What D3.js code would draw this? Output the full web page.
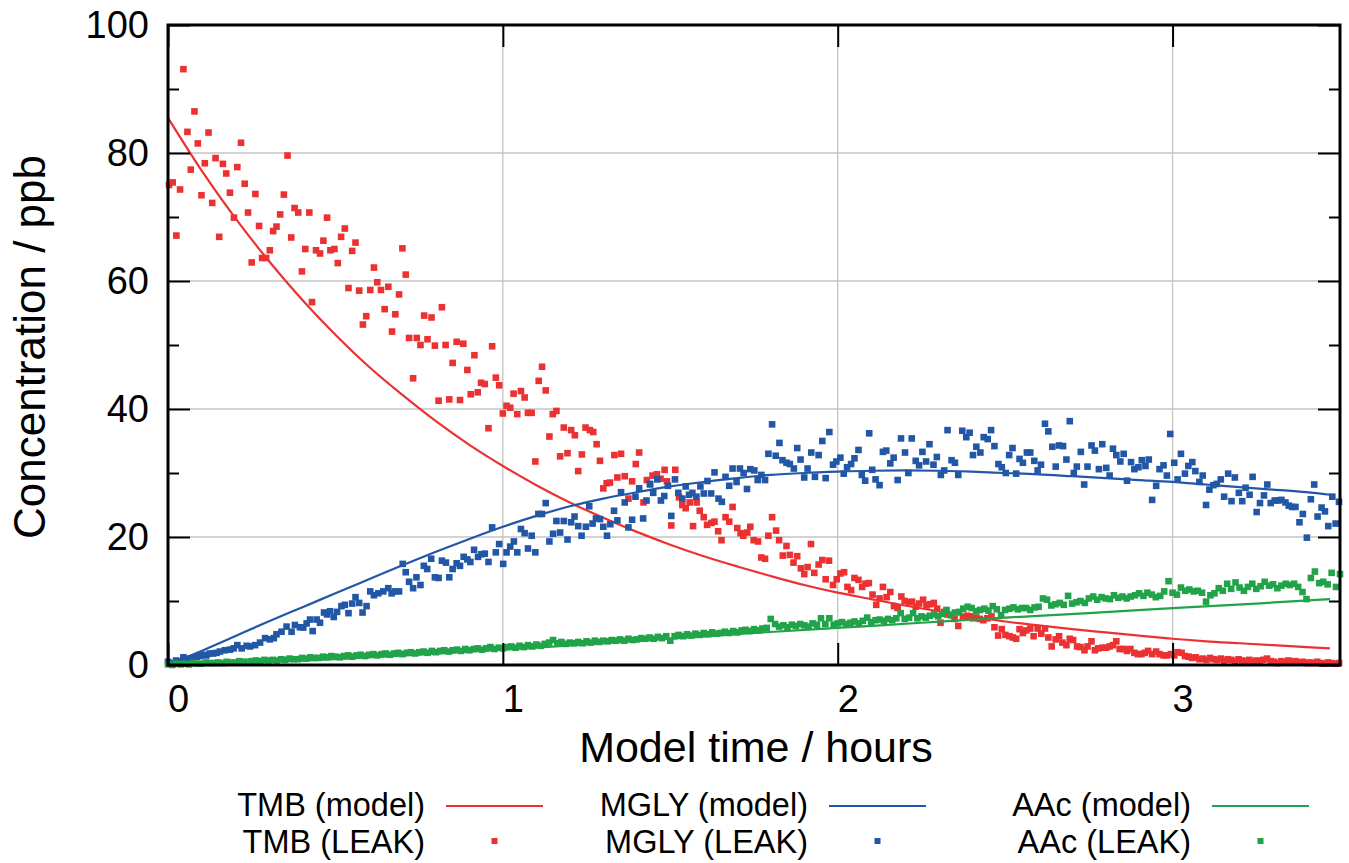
<!DOCTYPE html>
<html><head><meta charset="utf-8">
<script src="https://cdn.jsdelivr.net/npm/d3@7/dist/d3.min.js"></script>
<style>html,body{margin:0;padding:0;background:#fff;} svg{display:block;}</style>
</head><body><svg id="chart" width="1349" height="863"></svg>
<script>
// ---------------- data ----------------
const xTicks = [0, 1, 2, 3];
const yTicks = [0, 20, 40, 60, 80, 100];
const yMinorTicks = [10, 30, 50, 70, 90];
const xGrid = [1, 2, 3];
const yGrid = [20, 40, 60, 80];
const xTitle = "Model time / hours";
const yTitle = "Concentration / ppb";
const seriesNames = ["TMB", "MGLY", "AAc"];
const seriesColors = ["#eb3131", "#2157a6", "#21a34a"];

// model curves: [hours, ppb]
const tmbModel = [[0,85.5],[0.1,77.3],[0.2,69.9],[0.3,63.2],[0.4,57.1],[0.5,51.6],[0.6,46.6],[0.7,42.2],[0.8,38.1],[0.9,34.4],[1.0,31.1],[1.1,28.1],[1.2,25.4],[1.3,23.0],[1.4,20.8],[1.5,18.8],[1.6,17.0],[1.7,15.4],[1.8,13.9],[1.9,12.5],[2.0,11.3],[2.1,10.3],[2.2,9.3],[2.3,8.4],[2.4,7.6],[2.5,6.8],[2.6,6.2],[2.7,5.6],[2.8,5.1],[2.9,4.6],[3.0,4.1],[3.1,3.7],[3.2,3.4],[3.3,3.1],[3.4,2.8],[3.47,2.6]];
const mglyModel = [[0,0],[0.1,2.2],[0.2,4.5],[0.3,6.8],[0.4,9.0],[0.5,11.2],[0.6,13.4],[0.7,15.6],[0.8,17.7],[0.9,19.7],[1.0,21.6],[1.1,23.3],[1.2,24.8],[1.3,26.0],[1.4,27.0],[1.5,27.9],[1.6,28.6],[1.7,29.2],[1.8,29.7],[1.9,30.0],[2.0,30.2],[2.1,30.35],[2.2,30.4],[2.3,30.35],[2.4,30.2],[2.5,30.0],[2.6,29.8],[2.7,29.5],[2.8,29.2],[2.9,28.9],[3.0,28.6],[3.1,28.2],[3.2,27.8],[3.3,27.4],[3.4,27.0],[3.47,26.6]];
const aacModel = [[0,0],[0.25,0.35],[0.5,0.9],[0.75,1.6],[1.0,2.4],[1.25,3.2],[1.5,4.1],[1.75,5.0],[2.0,5.8],[2.25,6.6],[2.5,7.4],[2.75,8.1],[3.0,8.9],[3.25,9.6],[3.47,10.3]];

// LEAK measurements: [hours, ppb]
const tmbLeak = [[0.003,75.0],[0.014,75.4],[0.025,67.1],[0.036,74.3],[0.046,93.1],[0.058,83.3],[0.068,77.4],[0.079,86.5],[0.089,81.5],[0.100,73.4],[0.110,78.4],[0.121,83.2],[0.132,72.2],[0.142,79.2],[0.153,66.9],[0.164,78.3],[0.174,76.8],[0.185,73.8],[0.197,69.9],[0.207,77.8],[0.218,81.6],[0.229,75.2],[0.239,70.7],[0.250,62.9],[0.261,73.6],[0.272,68.6],[0.281,63.6],[0.293,63.6],[0.304,64.8],[0.314,67.8],[0.324,68.5],[0.335,70.4],[0.346,73.5],[0.357,79.6],[0.368,66.8],[0.378,71.4],[0.389,70.7],[0.400,61.5],[0.410,65.0],[0.422,70.7],[0.430,56.7],[0.442,64.8],[0.454,64.3],[0.464,66.3],[0.475,69.9],[0.485,64.8],[0.497,65.0],[0.507,62.8],[0.517,66.9],[0.528,68.2],[0.539,58.9],[0.550,64.7],[0.560,66.0],[0.571,58.5],[0.582,53.2],[0.592,54.5],[0.604,58.6],[0.615,62.1],[0.625,59.8],[0.636,58.6],[0.647,55.6],[0.658,59.1],[0.669,52.1],[0.679,54.8],[0.690,57.9],[0.700,65.1],[0.710,61.0],[0.720,51.1],[0.732,44.8],[0.743,51.1],[0.754,50.0],[0.765,54.6],[0.775,50.9],[0.787,54.3],[0.797,49.9],[0.808,41.3],[0.818,55.9],[0.829,50.0],[0.840,41.5],[0.850,47.2],[0.862,50.5],[0.872,41.4],[0.882,50.2],[0.894,46.1],[0.904,42.3],[0.915,48.4],[0.925,42.6],[0.935,44.1],[0.946,43.9],[0.957,37.0],[0.968,49.8],[0.979,44.9],[0.989,43.7],[1.000,39.3],[1.011,40.5],[1.022,40.2],[1.032,42.4],[1.043,39.2],[1.054,42.8],[1.065,41.8],[1.075,39.4],[1.086,39.4],[1.097,31.8],[1.107,44.4],[1.117,46.6],[1.128,42.9],[1.139,35.7],[1.149,39.2],[1.160,39.7],[1.171,32.6],[1.182,37.1],[1.193,33.1],[1.204,36.7],[1.215,35.9],[1.225,30.3],[1.236,32.9],[1.247,37.1],[1.260,36.7],[1.270,36.4],[1.280,34.5],[1.290,31.9],[1.300,27.6],[1.310,28.4],[1.320,28.5],[1.333,32.8],[1.342,29.3],[1.353,33.0],[1.364,29.5],[1.375,26.0],[1.386,28.7],[1.397,31.4],[1.407,33.2],[1.420,25.4],[1.430,28.9],[1.440,28.2],[1.447,29.6],[1.460,29.8],[1.471,29.1],[1.483,30.5],[1.490,28.7],[1.503,21.8],[1.515,30.5],[1.526,26.2],[1.536,25.0],[1.546,24.5],[1.558,25.4],[1.568,21.7],[1.579,25.4],[1.588,24.1],[1.600,23.1],[1.610,21.9],[1.623,22.2],[1.632,22.4],[1.643,20.9],[1.653,19.5],[1.665,23.1],[1.676,22.4],[1.686,24.7],[1.700,21.4],[1.710,20.6],[1.718,20.2],[1.730,20.7],[1.739,21.6],[1.749,19.5],[1.762,19.3],[1.772,16.8],[1.783,16.6],[1.793,20.2],[1.804,23.1],[1.816,21.0],[1.825,19.5],[1.836,17.1],[1.847,18.6],[1.857,17.2],[1.868,16.0],[1.879,17.0],[1.890,15.1],[1.900,14.2],[1.910,15.3],[1.920,18.9],[1.930,14.4],[1.943,15.7],[1.954,16.4],[1.964,13.4],[1.974,16.3],[1.986,12.5],[1.997,13.4],[2.008,14.3],[2.019,14.5],[2.029,12.2],[2.040,11.7],[2.050,13.6],[2.062,13.3],[2.073,12.2],[2.083,12.7],[2.093,12.8],[2.104,11.0],[2.115,9.4],[2.125,10.4],[2.135,12.2],[2.146,10.6],[2.157,11.4],[2.168,9.2],[2.179,8.9],[2.190,10.7],[2.200,10.0],[2.212,9.8],[2.222,9.9],[2.233,9.1],[2.243,9.6],[2.255,10.2],[2.265,9.3],[2.276,9.5],[2.287,9.7],[2.297,8.8],[2.307,6.6],[2.318,8.3],[2.328,7.9],[2.339,7.8],[2.349,7.2],[2.360,6.1],[2.374,7.5],[2.386,7.7],[2.395,7.6],[2.404,7.3],[2.414,7.4],[2.424,7.2],[2.435,7.0],[2.447,7.3],[2.459,7.6],[2.468,5.9],[2.479,4.6],[2.490,5.6],[2.501,4.7],[2.513,4.5],[2.523,4.3],[2.533,4.1],[2.543,5.6],[2.553,5.0],[2.563,5.4],[2.575,5.7],[2.585,4.5],[2.597,5.7],[2.608,4.9],[2.619,5.7],[2.629,4.3],[2.639,2.9],[2.651,4.0],[2.661,4.5],[2.671,3.5],[2.683,3.1],[2.693,4.1],[2.703,3.9],[2.715,2.9],[2.725,2.8],[2.737,2.3],[2.746,2.9],[2.758,3.7],[2.768,2.3],[2.778,2.6],[2.790,2.7],[2.802,2.7],[2.812,2.9],[2.822,3.1],[2.832,3.7],[2.842,2.5],[2.854,2.5],[2.864,2.2],[2.874,2.5],[2.886,1.9],[2.896,1.7],[2.907,1.7],[2.917,1.9],[2.927,2.2],[2.939,1.7],[2.951,2.1],[2.961,1.7],[2.973,1.5],[2.983,1.5],[2.995,1.7],[3.005,1.5],[3.015,2.0],[3.027,1.9],[3.037,1.4],[3.048,1.3],[3.058,1.1],[3.069,1.2],[3.080,0.9],[3.090,1.0],[3.101,0.8],[3.112,1.1],[3.122,0.9],[3.133,0.8],[3.144,1.0],[3.154,0.7],[3.165,0.9],[3.175,0.8],[3.186,0.6],[3.197,0.9],[3.207,0.7],[3.218,0.6],[3.229,0.8],[3.239,0.5],[3.250,0.7],[3.261,0.6],[3.271,0.8],[3.282,1.0],[3.293,0.6],[3.303,0.5],[3.314,0.3],[3.325,0.6],[3.335,0.4],[3.346,0.7],[3.357,0.5],[3.367,0.6],[3.378,0.4],[3.389,0.5],[3.400,0.3],[3.410,0.4],[3.421,0.3],[3.432,0.5],[3.443,0.3],[3.453,0.2],[3.464,0.4],[3.475,0.3],[3.486,0.2],[3.497,0.3]];

const mglyLeak = [[0.000,0.5],[0.012,0.3],[0.024,0.7],[0.035,0.6],[0.046,1.2],[0.056,0.9],[0.066,1.0],[0.076,1.1],[0.086,1.3],[0.096,1.4],[0.106,1.6],[0.115,1.5],[0.125,1.8],[0.135,1.8],[0.145,1.9],[0.155,2.1],[0.170,2.3],[0.185,2.4],[0.196,2.6],[0.207,3.1],[0.220,2.6],[0.235,3.0],[0.245,2.9],[0.260,3.1],[0.275,3.5],[0.290,4.2],[0.304,4.0],[0.316,4.2],[0.324,4.8],[0.339,5.2],[0.354,6.0],[0.369,5.2],[0.379,6.25],[0.394,5.9],[0.404,5.85],[0.414,6.5],[0.424,7.1],[0.432,5.3],[0.444,7.1],[0.454,6.6],[0.466,8.2],[0.475,7.9],[0.484,8.4],[0.495,7.5],[0.505,8.3],[0.518,9.2],[0.528,9.4],[0.539,8.1],[0.550,9.6],[0.560,10.6],[0.571,9.7],[0.581,8.2],[0.593,9.2],[0.604,11.5],[0.615,10.9],[0.628,11.2],[0.643,11.5],[0.658,12.0],[0.668,11.2],[0.678,11.5],[0.690,11.5],[0.701,15.8],[0.710,14.5],[0.720,13.0],[0.732,12.0],[0.742,13.7],[0.754,12.5],[0.764,15.5],[0.774,15.0],[0.786,16.6],[0.797,13.7],[0.808,13.6],[0.818,16.3],[0.830,16.0],[0.840,13.7],[0.850,15.0],[0.862,15.9],[0.872,15.5],[0.883,16.9],[0.894,16.5],[0.903,16.1],[0.914,18.0],[0.926,16.9],[0.936,17.3],[0.946,17.4],[0.957,16.1],[0.968,21.5],[0.979,17.6],[0.989,18.9],[1.001,15.8],[1.011,17.6],[1.022,18.5],[1.033,19.3],[1.043,17.6],[1.054,21.25],[1.065,20.6],[1.075,18.2],[1.086,20.2],[1.097,17.6],[1.106,23.6],[1.117,23.6],[1.128,25.3],[1.139,19.3],[1.150,20.5],[1.160,22.5],[1.171,20.7],[1.182,22.5],[1.193,19.6],[1.204,22.3],[1.214,23.2],[1.225,21.7],[1.235,20.2],[1.248,21.6],[1.258,24.8],[1.268,22.1],[1.278,22.9],[1.290,22.8],[1.300,21.6],[1.311,20.2],[1.321,22.0],[1.332,24.1],[1.342,22.6],[1.353,27.0],[1.364,25.4],[1.375,21.5],[1.386,22.7],[1.396,26.3],[1.407,27.6],[1.419,22.9],[1.429,25.7],[1.439,28.3],[1.449,26.9],[1.461,29.0],[1.472,25.7],[1.482,26.4],[1.493,28.0],[1.503,23.3],[1.514,29.0],[1.524,26.9],[1.536,26.0],[1.546,27.9],[1.556,26.6],[1.566,26.9],[1.578,26.3],[1.590,27.9],[1.600,26.8],[1.611,28.75],[1.622,26.8],[1.632,30.1],[1.644,26.0],[1.654,25.5],[1.665,29.4],[1.676,28.0],[1.686,30.7],[1.698,28.6],[1.708,30.7],[1.719,30.0],[1.729,27.5],[1.739,30.6],[1.751,30.4],[1.761,28.9],[1.772,29.7],[1.783,28.9],[1.793,33.0],[1.804,37.6],[1.815,32.7],[1.826,34.7],[1.835,32.0],[1.847,31.6],[1.857,31.4],[1.869,30.7],[1.879,33.9],[1.889,32.1],[1.900,29.3],[1.910,30.7],[1.921,33.2],[1.932,29.4],[1.943,32.8],[1.954,35.0],[1.964,29.2],[1.975,36.4],[1.986,31.3],[1.996,31.8],[2.008,32.4],[2.018,29.9],[2.028,30.9],[2.040,31.4],[2.050,32.3],[2.062,33.6],[2.072,29.7],[2.082,28.8],[2.094,36.2],[2.103,30.5],[2.113,29.0],[2.125,28.1],[2.135,33.3],[2.145,33.5],[2.157,31.5],[2.167,32.4],[2.179,28.9],[2.189,35.4],[2.201,33.2],[2.211,30.0],[2.221,35.4],[2.233,31.9],[2.243,31.2],[2.253,33.3],[2.264,31.8],[2.274,34.5],[2.286,31.3],[2.296,32.5],[2.308,29.7],[2.318,30.4],[2.328,36.7],[2.340,32.0],[2.350,31.6],[2.360,29.7],[2.372,36.6],[2.384,35.6],[2.394,36.3],[2.404,32.8],[2.414,34.1],[2.426,33.2],[2.436,35.6],[2.448,35.3],[2.458,36.7],[2.468,34.2],[2.480,31.4],[2.490,30.9],[2.502,30.0],[2.512,32.8],[2.522,33.9],[2.533,29.9],[2.543,32.2],[2.553,31.6],[2.565,33.2],[2.575,33.2],[2.587,31.9],[2.597,30.4],[2.607,31.3],[2.619,37.7],[2.629,36.5],[2.641,34.1],[2.651,31.0],[2.661,34.3],[2.673,34.2],[2.683,32.1],[2.693,38.1],[2.705,30.0],[2.714,31.0],[2.726,33.3],[2.736,28.2],[2.746,31.0],[2.758,34.3],[2.768,33.5],[2.780,30.6],[2.790,34.5],[2.802,30.8],[2.812,29.6],[2.822,33.8],[2.832,32.8],[2.844,31.8],[2.854,33.0],[2.864,28.8],[2.876,31.7],[2.886,30.6],[2.898,30.9],[2.908,32.0],[2.919,31.1],[2.929,32.1],[2.939,25.8],[2.951,28.0],[2.961,30.6],[2.973,31.2],[2.983,29.6],[2.993,36.1],[3.005,31.6],[3.015,29.0],[3.025,33.0],[3.037,29.9],[3.047,31.1],[3.059,31.7],[3.068,30.3],[3.080,28.6],[3.090,29.6],[3.100,25.0],[3.110,27.4],[3.122,28.1],[3.132,28.3],[3.144,29.0],[3.154,26.3],[3.166,29.9],[3.176,25.6],[3.186,29.3],[3.198,26.9],[3.208,25.6],[3.218,27.7],[3.230,26.6],[3.239,29.4],[3.251,23.9],[3.261,25.3],[3.273,26.5],[3.283,28.2],[3.293,25.3],[3.305,25.7],[3.315,25.7],[3.325,25.8],[3.337,25.4],[3.347,24.9],[3.357,24.7],[3.367,24.7],[3.379,22.3],[3.389,23.6],[3.401,19.9],[3.413,25.9],[3.423,28.2],[3.433,23.2],[3.445,24.6],[3.455,24.0],[3.465,21.7],[3.477,26.3],[3.487,22.1],[3.497,25.5]];

const aacLeak = [[0.000,0.1],[0.013,0.0],[0.025,0.2],[0.038,0.1],[0.050,0.2],[0.063,0.1],[0.075,0.3],[0.088,0.2],[0.100,0.2],[0.113,0.4],[0.125,0.3],[0.138,0.3],[0.150,0.4],[0.163,0.3],[0.175,0.5],[0.188,0.4],[0.200,0.4],[0.213,0.6],[0.225,0.5],[0.238,0.5],[0.250,0.6],[0.263,0.7],[0.275,0.6],[0.288,0.8],[0.300,0.7],[0.313,0.8],[0.325,0.7],[0.338,0.9],[0.350,0.8],[0.363,1.0],[0.375,0.9],[0.388,0.9],[0.400,1.1],[0.413,1.0],[0.425,1.2],[0.438,1.1],[0.450,1.1],[0.463,1.3],[0.475,1.2],[0.488,1.4],[0.500,1.3],[0.513,1.2],[0.525,1.4],[0.538,1.5],[0.550,1.3],[0.563,1.5],[0.575,1.6],[0.588,1.4],[0.600,1.6],[0.613,1.7],[0.625,1.5],[0.638,1.7],[0.650,1.8],[0.663,1.6],[0.675,1.8],[0.688,1.9],[0.700,1.7],[0.713,1.9],[0.725,2.0],[0.738,1.8],[0.750,2.0],[0.763,2.1],[0.775,1.9],[0.788,2.2],[0.800,2.0],[0.813,2.2],[0.825,2.3],[0.838,2.1],[0.850,2.3],[0.863,2.4],[0.875,2.2],[0.888,2.5],[0.900,2.3],[0.913,2.5],[0.925,2.6],[0.938,2.4],[0.950,2.6],[0.963,2.8],[0.975,2.5],[0.988,2.7],[1.000,2.6],[1.013,2.8],[1.025,2.9],[1.038,2.7],[1.050,3.0],[1.063,2.8],[1.075,3.1],[1.088,2.9],[1.100,3.2],[1.113,3.0],[1.125,3.3],[1.138,3.5],[1.150,3.9],[1.163,3.4],[1.175,3.6],[1.188,3.3],[1.200,3.5],[1.213,3.4],[1.225,3.6],[1.238,3.4],[1.250,3.7],[1.263,3.5],[1.275,3.8],[1.288,3.6],[1.300,3.8],[1.313,3.7],[1.325,3.9],[1.338,3.8],[1.350,4.0],[1.363,3.8],[1.375,4.1],[1.388,3.9],[1.400,4.0],[1.413,4.2],[1.425,4.1],[1.438,4.3],[1.450,4.1],[1.463,4.4],[1.475,4.2],[1.488,4.5],[1.500,3.8],[1.513,4.5],[1.525,4.7],[1.538,4.5],[1.550,4.8],[1.563,4.6],[1.575,4.9],[1.588,4.7],[1.600,5.0],[1.613,4.8],[1.625,5.1],[1.638,4.9],[1.650,5.0],[1.663,5.2],[1.675,5.0],[1.688,5.3],[1.700,5.1],[1.713,5.4],[1.725,5.5],[1.738,5.3],[1.750,5.6],[1.763,5.4],[1.775,5.7],[1.788,5.8],[1.800,7.2],[1.813,6.4],[1.825,6.0],[1.838,6.2],[1.850,5.9],[1.863,6.3],[1.875,6.1],[1.888,6.4],[1.900,6.2],[1.913,6.0],[1.925,6.5],[1.938,6.3],[1.950,7.3],[1.963,6.4],[1.975,7.3],[1.988,6.3],[2.000,6.5],[2.013,6.7],[2.025,6.4],[2.038,6.6],[2.050,6.8],[2.063,6.5],[2.075,6.9],[2.088,7.4],[2.100,6.7],[2.113,7.0],[2.125,7.1],[2.138,6.9],[2.150,7.2],[2.163,7.0],[2.175,7.3],[2.188,8.1],[2.200,7.2],[2.213,7.4],[2.225,8.1],[2.238,7.3],[2.250,7.6],[2.263,7.4],[2.275,7.7],[2.288,7.9],[2.300,7.6],[2.313,8.0],[2.325,8.6],[2.338,7.8],[2.350,8.2],[2.363,8.3],[2.375,8.8],[2.388,9.1],[2.400,8.9],[2.413,8.4],[2.425,8.6],[2.438,8.8],[2.450,8.5],[2.463,9.2],[2.475,8.7],[2.488,7.8],[2.500,8.6],[2.513,8.8],[2.525,9.0],[2.538,8.7],[2.550,8.9],[2.563,8.9],[2.575,8.6],[2.588,9.0],[2.600,9.1],[2.613,10.4],[2.625,10.2],[2.638,9.3],[2.650,9.5],[2.663,9.7],[2.675,9.4],[2.688,10.8],[2.700,9.6],[2.713,9.8],[2.725,10.0],[2.738,9.7],[2.750,10.4],[2.763,10.7],[2.775,10.2],[2.788,10.6],[2.800,10.4],[2.813,10.3],[2.825,10.9],[2.838,10.5],[2.850,10.7],[2.863,10.4],[2.875,10.7],[2.888,10.9],[2.900,11.2],[2.913,10.8],[2.925,11.3],[2.938,11.0],[2.950,10.6],[2.963,10.8],[2.975,11.5],[2.988,13.1],[3.000,11.3],[3.013,11.0],[3.025,12.1],[3.038,11.6],[3.050,11.8],[3.063,11.5],[3.075,11.6],[3.088,11.3],[3.100,9.9],[3.113,10.9],[3.125,11.2],[3.138,12.0],[3.150,11.6],[3.163,12.7],[3.175,11.9],[3.188,12.9],[3.200,12.1],[3.213,11.6],[3.225,12.2],[3.238,12.7],[3.250,11.9],[3.263,12.3],[3.275,13.0],[3.288,12.4],[3.300,12.6],[3.313,12.0],[3.325,12.4],[3.338,12.7],[3.350,12.5],[3.363,12.7],[3.375,12.2],[3.388,11.4],[3.400,10.3],[3.413,13.6],[3.425,14.6],[3.438,12.8],[3.450,13.0],[3.463,12.6],[3.475,14.4],[3.488,12.2],[3.500,14.2]];

// ---------------- drawing ----------------
const FONT = "'Liberation Sans', Arial, Helvetica, sans-serif";
const plot = {left: 168, right: 1340, top: 25, bottom: 665};
const x = d3.scaleLinear().domain([0, 3.5]).range([plot.left, plot.right]);
const y = d3.scaleLinear().domain([0, 100]).range([plot.bottom, plot.top]);

const svg = d3.select("#chart");
svg.append("rect").attr("width", 1349).attr("height", 863).attr("fill", "#fff");

// grid
const grid = svg.append("g").attr("stroke", "#c4c4c4").attr("stroke-width", 1.3);
grid.selectAll("line.gx").data(xGrid).join("line")
  .attr("x1", d => x(d)).attr("x2", d => x(d)).attr("y1", plot.top).attr("y2", plot.bottom);
grid.selectAll("line.gy").data(yGrid).join("line")
  .attr("y1", d => y(d)).attr("y2", d => y(d)).attr("x1", plot.left).attr("x2", plot.right);

const models = [tmbModel, mglyModel, aacModel];
const leaks = [tmbLeak, mglyLeak, aacLeak];
const line = d3.line().x(d => x(d[0])).y(d => y(d[1])).curve(d3.curveMonotoneX);
const SQ = 6.6;

svg.append("clipPath").attr("id", "clip").append("rect")
  .attr("x", plot.left).attr("y", plot.top).attr("width", plot.right - plot.left).attr("height", plot.bottom - plot.top);

seriesNames.forEach((name, i) => {
  svg.append("path").datum(models[i])
    .attr("fill", "none").attr("stroke", seriesColors[i]).attr("stroke-width", 2.2)
    .attr("clip-path", "url(#clip)").attr("d", line);
  svg.append("g").selectAll("rect").data(leaks[i]).join("rect")
    .attr("x", d => x(d[0]) - SQ / 2).attr("y", d => y(d[1]) - SQ / 2)
    .attr("width", SQ).attr("height", SQ).attr("fill", seriesColors[i]);
});

// axes (inward ticks, mirrored)
function styleAxis(g) {
  g.select(".domain").remove();
  g.selectAll(".tick line").attr("stroke", "#000").attr("stroke-width", 2);
  g.selectAll(".tick text").attr("font-family", FONT).attr("fill", "#000");
}
svg.append("g").attr("transform", `translate(0,${plot.bottom})`)
  .call(d3.axisBottom(x).tickValues(xTicks).tickSizeInner(-22).tickSizeOuter(0).tickPadding(20).tickFormat(d3.format("d")))
  .call(styleAxis)
  .call(g => g.selectAll(".tick text").attr("font-size", 38).attr("dx", 10));
svg.append("g").attr("transform", `translate(0,${plot.top})`)
  .call(d3.axisTop(x).tickValues(xTicks).tickSizeInner(-22).tickSizeOuter(0).tickFormat(""))
  .call(styleAxis);
svg.append("g").attr("transform", `translate(${plot.left},0)`)
  .call(d3.axisLeft(y).tickValues(yTicks).tickSizeInner(-22).tickSizeOuter(0).tickPadding(19).tickFormat(d3.format("d")))
  .call(styleAxis)
  .call(g => g.selectAll(".tick text").attr("font-size", 38));
svg.append("g").attr("transform", `translate(${plot.left},0)`)
  .call(d3.axisLeft(y).tickValues(yMinorTicks).tickSizeInner(-11).tickSizeOuter(0).tickFormat(""))
  .call(styleAxis);
svg.append("g").attr("transform", `translate(${plot.right},0)`)
  .call(d3.axisRight(y).tickValues(yTicks).tickSizeInner(-22).tickSizeOuter(0).tickFormat(""))
  .call(styleAxis);
svg.append("g").attr("transform", `translate(${plot.right},0)`)
  .call(d3.axisRight(y).tickValues(yMinorTicks).tickSizeInner(-11).tickSizeOuter(0).tickFormat(""))
  .call(styleAxis);

// frame
svg.append("rect").attr("x", plot.left).attr("y", plot.top)
  .attr("width", plot.right - plot.left).attr("height", plot.bottom - plot.top)
  .attr("fill", "none").attr("stroke", "#000").attr("stroke-width", 3);

// titles
svg.append("text").attr("x", 756).attr("y", 762).attr("text-anchor", "middle")
  .attr("font-family", FONT).attr("font-size", 43).text(xTitle);
svg.append("text").attr("transform", "translate(45,347) rotate(-90)").attr("text-anchor", "middle")
  .attr("font-family", FONT).attr("font-size", 44).text(yTitle);

// legend
const legendTextRight = [425, 808, 1191];
const legendSampleStart = [446, 829, 1212];
const lg = svg.append("g").attr("font-family", FONT).attr("font-size", 32.5);
seriesNames.forEach((name, i) => {
  lg.append("text").attr("x", legendTextRight[i]).attr("y", 816).attr("text-anchor", "end").text(`${name} (model)`);
  lg.append("text").attr("x", legendTextRight[i]).attr("y", 853).attr("text-anchor", "end").text(`${name} (LEAK)`);
  lg.append("line").attr("x1", legendSampleStart[i]).attr("x2", legendSampleStart[i] + 97)
    .attr("y1", 806).attr("y2", 806).attr("stroke", seriesColors[i]).attr("stroke-width", 2.2);
  lg.append("rect").attr("x", legendSampleStart[i] + 48.5 - 3).attr("y", 841 - 3)
    .attr("width", 6).attr("height", 6).attr("fill", seriesColors[i]);
});
</script>
</body></html>
